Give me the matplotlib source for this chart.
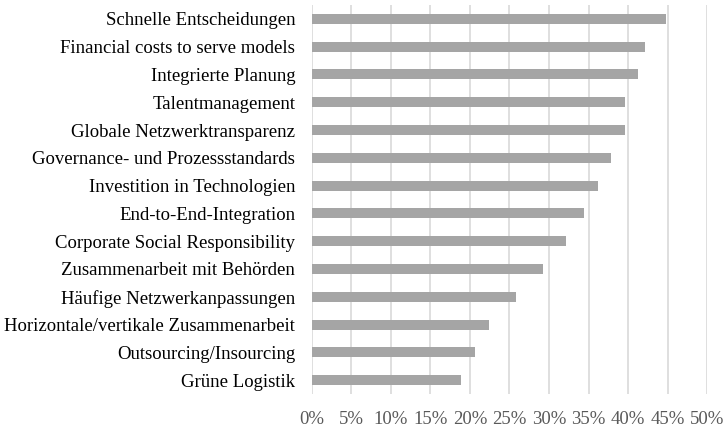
import matplotlib
matplotlib.use("Agg")
import matplotlib.pyplot as plt
from matplotlib.ticker import MultipleLocator, FuncFormatter

categories = [
    "Schnelle Entscheidungen",
    "Financial costs to serve models",
    "Integrierte Planung",
    "Talentmanagement",
    "Globale Netzwerktransparenz",
    "Governance- und Prozessstandards",
    "Investition in Technologien",
    "End-to-End-Integration",
    "Corporate Social Responsibility",
    "Zusammenarbeit mit Behörden",
    "Häufige Netzwerkanpassungen",
    "Horizontale/vertikale Zusammenarbeit",
    "Outsourcing/Insourcing",
    "Grüne Logistik",
]
values = [44.8, 42.1, 41.3, 39.6, 39.6, 37.9, 36.2, 34.4, 32.1, 29.2, 25.8, 22.4, 20.6, 18.9]

plt.rcParams['font.family'] = ['Liberation Serif', 'DejaVu Serif']

fig = plt.figure(figsize=(7.25, 4.28), dpi=100)
ax = fig.add_axes([0.4303, 0.0794, 0.5449, 0.9089])

n = len(categories)
ypos = list(range(n))[::-1]
ax.barh(ypos, values, height=0.36, color="#a5a5a5", zorder=3)

ax.set_xlim(0, 50)
ax.set_ylim(-0.5, n - 0.5)
ax.xaxis.set_major_locator(MultipleLocator(5))
ax.xaxis.set_major_formatter(FuncFormatter(lambda v, p: f"{int(round(v))}%"))
ax.grid(axis="x", color="#d9d9d9", linewidth=1.2, zorder=0)
ax.set_yticks(ypos)
ax.set_yticklabels(categories)
for s in ax.spines.values():
    s.set_visible(False)
ax.tick_params(axis="both", length=0, labelsize=13.5, colors="#000000")
ax.tick_params(axis="y", pad=12)
ax.tick_params(axis="x", pad=12, labelcolor="#595959")
ax.set_axisbelow(True)

fig.savefig("out.png", dpi=100)
